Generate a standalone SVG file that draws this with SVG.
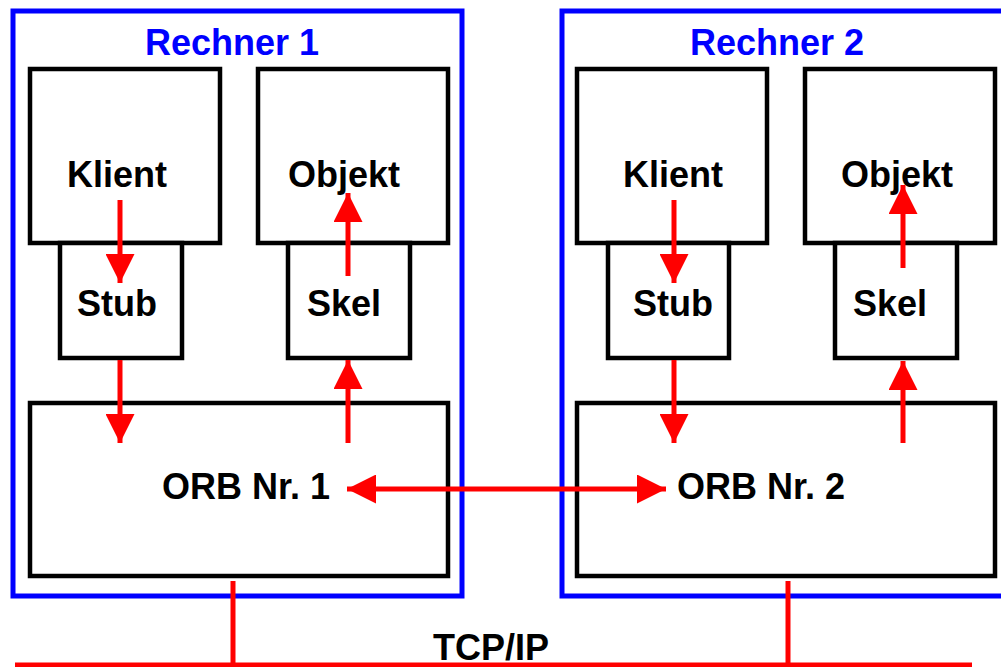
<svg xmlns="http://www.w3.org/2000/svg" width="1001" height="667" viewBox="0 0 1001 667">
<style>
.host{fill:none;stroke:#0000ff;stroke-width:5}
.box{fill:#ffffff;stroke:#000000;stroke-width:4.5}
.lbl{font-family:"Liberation Sans",Arial,sans-serif;font-weight:bold;font-size:36px;fill:#000000;text-anchor:middle}
.hl{fill:#0000ff}
.con{stroke:#ff0000;stroke-width:5;fill:none}
.arr{marker-end:url(#ah)}
</style>
<defs>
<marker id="ah" markerUnits="userSpaceOnUse" markerWidth="29" markerHeight="29" viewBox="0 0 29 29" refX="29" refY="14.5" orient="auto-start-reverse">
<path d="M0,0 L29,14.5 L0,29 Z" fill="#ff0000"/>
</marker>
</defs>
<rect width="1001" height="667" fill="#ffffff"/>
<g id="rechner1">
<rect class="host" x="13" y="11" width="449" height="585"/>
<text class="lbl hl" x="232" y="55">Rechner 1</text>
</g>
<g id="rechner2">
<rect class="host" x="562" y="11" width="460" height="585"/>
<text class="lbl hl" x="777" y="55">Rechner 2</text>
</g>
<g id="klient1"><rect class="box" x="30" y="69" width="190" height="174"/><text class="lbl" x="117" y="187">Klient</text></g>
<g id="objekt1"><rect class="box" x="258" y="69" width="190" height="174"/><text class="lbl" x="344" y="187">Objekt</text></g>
<g id="stub1"><rect class="box" x="60" y="243" width="122" height="115"/><text class="lbl" x="117" y="316">Stub</text></g>
<g id="skel1"><rect class="box" x="288" y="243" width="122" height="115"/><text class="lbl" x="344" y="316">Skel</text></g>
<g id="orb1"><rect class="box" x="30" y="403" width="418" height="173"/><text class="lbl" x="246" y="499">ORB Nr. 1</text></g>
<g id="klient2"><rect class="box" x="577" y="69" width="190" height="174"/><text class="lbl" x="673" y="187">Klient</text></g>
<g id="objekt2"><rect class="box" x="805" y="69" width="190" height="174"/><text class="lbl" x="897" y="187">Objekt</text></g>
<g id="stub2"><rect class="box" x="608" y="243" width="121" height="115"/><text class="lbl" x="673" y="316">Stub</text></g>
<g id="skel2"><rect class="box" x="835" y="243" width="122" height="115"/><text class="lbl" x="890" y="316">Skel</text></g>
<g id="orb2"><rect class="box" x="577" y="403" width="418" height="173"/><text class="lbl" x="761" y="499">ORB Nr. 2</text></g>
<g id="tcpip"><text class="lbl" x="491" y="660">TCP/IP</text></g>
<g id="connectors">
<line class="con arr" x1="120" y1="200" x2="120" y2="283"/>
<line class="con arr" x1="120" y1="360" x2="120" y2="443"/>
<line class="con arr" x1="348" y1="443" x2="348" y2="360"/>
<line class="con arr" x1="348" y1="276" x2="348" y2="193"/>
<line class="con arr" x1="674" y1="200" x2="674" y2="283"/>
<line class="con arr" x1="674" y1="360" x2="674" y2="443"/>
<line class="con arr" x1="903" y1="443" x2="903" y2="361"/>
<line class="con arr" x1="903" y1="268" x2="903" y2="185"/>
<line class="con" x1="347" y1="489" x2="666" y2="489" marker-start="url(#ah)" marker-end="url(#ah)"/>
<line class="con" x1="15" y1="665" x2="972" y2="665"/>
<line class="con" x1="233" y1="581" x2="233" y2="665"/>
<line class="con" x1="788" y1="581" x2="788" y2="665"/>
</g>
</svg>
